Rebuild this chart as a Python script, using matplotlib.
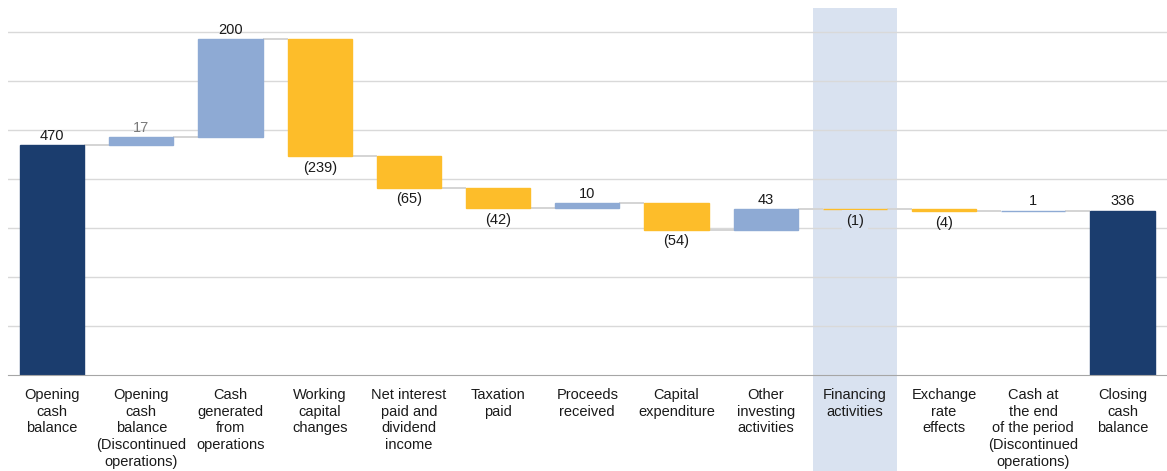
import matplotlib
matplotlib.use("Agg")
import matplotlib.pyplot as plt
from matplotlib.patches import Rectangle
import matplotlib.transforms as mtransforms

categories = [
    "Opening\ncash\nbalance",
    "Opening\ncash\nbalance\n(Discontinued\noperations)",
    "Cash\ngenerated\nfrom\noperations",
    "Working\ncapital\nchanges",
    "Net interest\npaid and\ndividend\nincome",
    "Taxation\npaid",
    "Proceeds\nreceived",
    "Capital\nexpenditure",
    "Other\ninvesting\nactivities",
    "Financing\nactivities",
    "Exchange\nrate\neffects",
    "Cash at\nthe end\nof the period\n(Discontinued\noperations)",
    "Closing\ncash\nbalance",
]
values = [470, 17, 200, -239, -65, -42, 10, -54, 43, -1, -4, 1, 336]
is_total = [True] + [False] * 11 + [True]
highlight = 9

NAVY = "#1b3d6e"
LIGHT = "#8eaad4"
YELLOW = "#fdbd2a"
BAND = "#d9e2f0"

plt.rcParams["font.family"] = ["Liberation Sans Narrow", "Liberation Sans", "DejaVu Sans"]

fig = plt.figure(figsize=(11.67, 4.71), dpi=100)
ax = fig.add_axes([0.0065, 0.204, 0.9935, 0.779])

width = 0.72
bottoms = []
heights = []
colors = []
running = 0
for v, tot in zip(values, is_total):
    if tot:
        bottoms.append(0)
        heights.append(v)
        colors.append(NAVY)
        running = v
    else:
        if v >= 0:
            bottoms.append(running)
            colors.append(LIGHT)
        else:
            bottoms.append(running + v)
            colors.append(YELLOW)
        heights.append(abs(v))
        running += v

x = list(range(len(values)))
ax.bar(x, heights, width, bottom=bottoms, color=colors, edgecolor=colors,
       linewidth=1.0, zorder=3)

# highlight band behind the financing column, reaching into the labels
trans = mtransforms.blended_transform_factory(ax.transData, ax.transAxes)
band = Rectangle((highlight - 0.47, -0.27), 0.94, 1.27, transform=trans,
                 facecolor=BAND, edgecolor="none", zorder=0, clip_on=False)
ax.add_patch(band)

# connector lines
level = 0
for i, v in enumerate(values[:-1]):
    level = v if is_total[i] else level + v
    ax.plot([i + width / 2, i + 1 - width / 2], [level, level],
            color="#d4d4d4", lw=1.4, zorder=2, solid_capstyle="butt")

# value labels
for i, v in enumerate(values):
    top = bottoms[i] + heights[i]
    col = "#7a7a7a" if i == 1 else "#1a1a1a"
    if v >= 0:
        ax.annotate(str(v), (i, top), xytext=(0, 1.5), textcoords="offset points",
                    ha="center", va="bottom", fontsize=10.5, color=col, zorder=4)
    else:
        bbox = None
        if i == highlight:
            bbox = dict(boxstyle="square,pad=0.3", fc=BAND, ec="none")
        ax.annotate("(%d)" % abs(v), (i, bottoms[i]), xytext=(0, -3.5),
                    textcoords="offset points", ha="center", va="top",
                    fontsize=10.5, color=col, zorder=4, bbox=bbox)

ax.set_xlim(-0.5, len(values) - 0.5)
ax.set_ylim(0, 750)
ax.set_yticks(range(100, 800, 100))
ax.yaxis.grid(True, color="#d9d9d9", lw=1, zorder=1)
ax.set_axisbelow(True)
ax.tick_params(axis="y", left=False, labelleft=False)
ax.tick_params(axis="x", bottom=False, pad=6)
ax.set_xticks(x)
ax.set_xticklabels(categories, fontsize=10.5, linespacing=1.24, color="#1a1a1a")
for s in ["top", "right", "left"]:
    ax.spines[s].set_visible(False)
ax.spines["bottom"].set_color("#a6a6a6")
ax.spines["bottom"].set_zorder(4)

fig.savefig("out.png", dpi=100)
